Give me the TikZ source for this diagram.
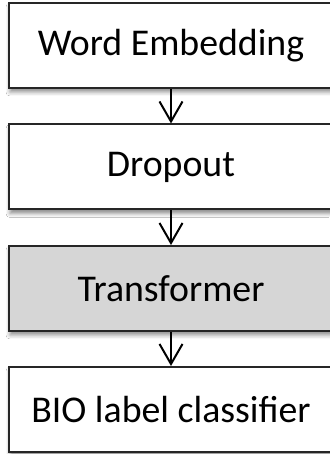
\documentclass[tikz,border=0pt]{standalone}
\usepackage{fontspec}
\setmainfont{Carlito}
\usetikzlibrary{arrows.meta,shadows.blur}
\tikzset{
  layer/.style={draw=black!85, line width=2pt, fill=white,
    minimum width=324pt, minimum height=85pt, inner sep=0pt,
    font=\fontsize{37.8}{44}\selectfont,
    blur shadow={shadow xshift=1pt, shadow yshift=-4pt,
      shadow blur radius=4pt, shadow opacity=45}},
  graylayer/.style={layer, fill=black!16},
  flow/.style={line width=2pt, draw=black,
    -{Straight Barb[length=20pt,width=23pt,line width=2pt]}}
}
\begin{document}
\begin{tikzpicture}[x=1pt,y=1pt]
  \useasboundingbox (0,0) rectangle (329,454);
  \fill[white] (0,0) rectangle (329,454);
  \node[layer]     (emb)  at (171,408.5) {Word Embedding};
  \node[layer]     (drop) at (171,287)   {Dropout};
  \node[graylayer] (tf)   at (171,165.5) {Transformer};
  \node[layer]     (bio)  at (171,44.5)  {BIO label classifier};
  \draw[flow] (emb)  -- (drop);
  \draw[flow] (drop) -- (tf);
  \draw[flow] (tf)   -- (bio);
\end{tikzpicture}
\end{document}
